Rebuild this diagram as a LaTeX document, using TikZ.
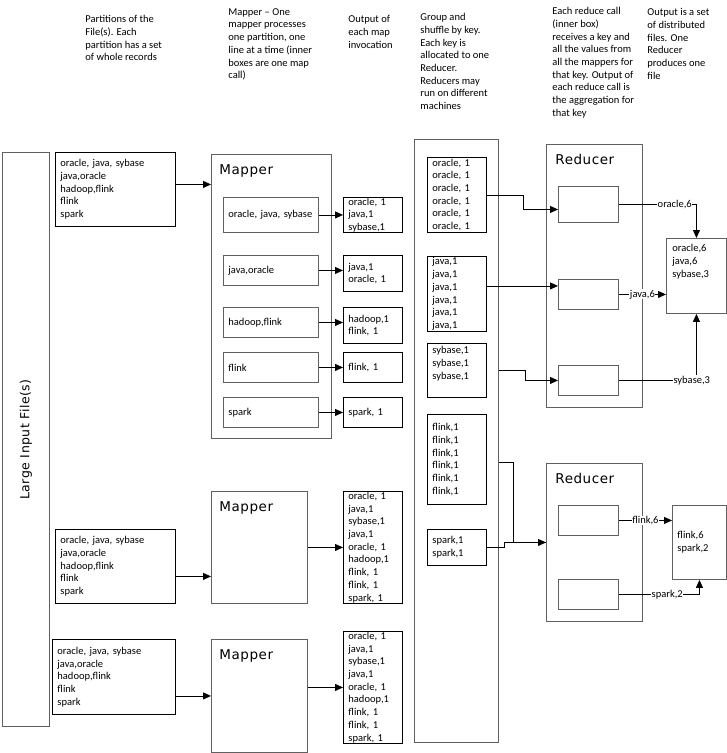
\documentclass[tikz,border=0pt]{standalone}
\usepackage{fontspec}
\setmainfont{Carlito}
\newfontfamily\titlefont[LetterSpace=4]{DejaVu Sans}
\usetikzlibrary{arrows.meta,calc}

\definecolor{boxgray}{RGB}{96,96,96}

\tikzset{
  txt/.style={font=\fontsize{10.5}{12.7}\selectfont},
  note/.style={txt, anchor=north west, inner sep=0pt, align=left},
  box/.style={draw, txt, anchor=north west, inner xsep=5pt, inner ysep=0pt, align=left},
  graybox/.style={box, draw=boxgray},
  title/.style={font=\titlefont\fontsize{13.5}{16}\selectfont, anchor=base west, inner sep=0pt},
  arr/.style={-{Triangle[length=8pt,width=7pt]}},
  lab/.style={txt, fill=white, inner sep=0.5pt},
}

\begin{document}
\begin{tikzpicture}[x=1pt, y=-1pt, line width=0.9pt]
  \useasboundingbox (0,0) rectangle (727,753);

  % notes along the top
  \node[note] (notepart) at (85,15) {Partitions of the\\File(s). Each\\partition has a set\\of whole records};
  \node[note] (notemap) at (228,8) {Mapper -- One\\mapper processes\\one partition, one\\line at a time (inner\\boxes are one map\\call)};
  \node[note] (noteout) at (348,15) {Output of\\each map\\invocation};
  \node[note] (noteshuf) at (420,13) {Group and\\shuffle by key.\\Each key is\\allocated to one\\Reducer.\\Reducers may\\run on different\\machines};
  \node[note] (notered) at (552,7) {Each reduce call\\(inner box)\\receives a key and\\all the values from\\all the mappers for\\that key. Output of\\each reduce call is\\the aggregation for\\that key};
  \node[note] (notefile) at (647,8) {Output is a set\\of distributed\\files. One\\Reducer\\produces one\\file};

  % input file
  \node[draw=boxgray, anchor=north west, minimum width=47pt, minimum height=574pt, inner sep=0pt] (input) at (2,152) {};
  \node[font=\titlefont\fontsize{12.5}{15}\selectfont, rotate=90] (inputt) at (input.center) {Large Input File(s)};

  % partitions
  \node[box, minimum width=120pt, minimum height=74pt, text width=110pt] (part1) at (55,152) {oracle, java, sybase\\java,oracle\\hadoop,flink\\flink\\spark};
  \node[box, minimum width=120pt, minimum height=74pt, text width=110pt] (part2) at (55,529) {oracle, java, sybase\\java,oracle\\hadoop,flink\\flink\\spark};
  \node[box, minimum width=123pt, minimum height=75pt, text width=113pt] (part3) at (52,639) {oracle, java, sybase\\java,oracle\\hadoop,flink\\flink\\spark};

  % mappers
  \node[graybox, minimum width=120pt, minimum height=284pt] (map1) at (211,154) {};
  \node[graybox, minimum width=96pt, minimum height=112pt] (map2) at (211,491) {};
  \node[graybox, minimum width=96pt, minimum height=113pt] (map3) at (211,639) {};
  \node[title] (map1t) at ($(map1.north west)+(8,20)$) {Mapper};
  \node[title] (map2t) at ($(map2.north west)+(8,20)$) {Mapper};
  \node[title] (map3t) at ($(map3.north west)+(8,20)$) {Mapper};

  % map calls
  \node[graybox, minimum width=95pt, minimum height=35pt, text width=85pt] (ma) at (223,197) {oracle, java, sybase};
  \node[graybox, minimum width=95pt, minimum height=30pt, text width=85pt] (mb) at (223,255) {java,oracle};
  \node[graybox, minimum width=95pt, minimum height=30pt, text width=85pt] (mc) at (223,307) {hadoop,flink};
  \node[graybox, minimum width=95pt, minimum height=30pt, text width=85pt] (md) at (223,352) {flink};
  \node[graybox, minimum width=95pt, minimum height=30pt, text width=85pt] (me) at (223,397) {spark};

  % map output
  \node[box, minimum width=59pt, minimum height=35pt, text width=49pt] (oa) at (343,197) {oracle, 1\\java,1\\sybase,1};
  \node[box, minimum width=59pt, minimum height=36pt, text width=49pt] (ob) at (343,255) {java,1\\oracle, 1};
  \node[box, minimum width=59pt, minimum height=36pt, text width=49pt] (oc) at (343,307) {hadoop,1\\flink, 1};
  \node[box, minimum width=59pt, minimum height=30pt, text width=49pt] (od) at (343,352) {flink, 1};
  \node[box, minimum width=59pt, minimum height=30pt, text width=49pt] (oe) at (343,397) {spark, 1};
  \node[box, minimum width=59pt, minimum height=112pt, text width=49pt] (om2) at (343,491) {oracle, 1\\java,1\\sybase,1\\java,1\\oracle, 1\\hadoop,1\\flink, 1\\flink, 1\\spark, 1};
  \node[box, minimum width=59pt, minimum height=112pt, text width=49pt] (om3) at (343,631) {oracle, 1\\java,1\\sybase,1\\java,1\\oracle, 1\\hadoop,1\\flink, 1\\flink, 1\\spark, 1};

  \draw[arr] ([yshift=5pt]part1.east) -- ([yshift=5pt]part1.east -| map1.west);
  \draw[arr] ([yshift=-10pt]part2.east) -- ([yshift=-10pt]part2.east -| map2.west);
  \draw[arr] (part3.east |- map3.west) -- (map3.west);
  \draw[arr] (ma.east) -- (ma.east -| oa.west);
  \draw[arr] (mb.east) -- (mb.east -| ob.west);
  \draw[arr] (mc.east) -- (mc.east -| oc.west);
  \draw[arr] (md.east) -- (md.east -| od.west);
  \draw[arr] (me.east) -- (me.east -| oe.west);
  \draw[arr] (map2.east) -- (om2.west);
  \draw[arr] (map3.east |- om3.west) -- (om3.west);

  % shuffle
  \node[graybox, minimum width=84pt, minimum height=603pt] (shuf) at (414,139) {};
  \node[box, minimum width=59pt, minimum height=75pt, text width=49pt] (so) at (427,157) {oracle, 1\\oracle, 1\\oracle, 1\\oracle, 1\\oracle, 1\\oracle, 1};
  \node[box, minimum width=59pt, minimum height=75pt, text width=49pt] (sj) at (427,256) {java,1\\java,1\\java,1\\java,1\\java,1\\java,1};
  \node[box, minimum width=59pt, minimum height=54pt] (ss) at (427,343) {};
  \node[note] (sst) at ($(ss.north west)+(5,3)$) {sybase,1\\sybase,1\\sybase,1};
  \node[box, minimum width=59pt, minimum height=90pt, text width=49pt] (sf) at (427,414) {flink,1\\flink,1\\flink,1\\flink,1\\flink,1\\flink,1};
  \node[box, minimum width=59pt, minimum height=36pt, text width=49pt] (sp) at (427,529) {spark,1\\spark,1};

  % reducers
  \node[graybox, minimum width=96pt, minimum height=263pt] (red1) at (546,144) {};
  \node[graybox, minimum width=96pt, minimum height=158pt] (red2) at (546,463) {};
  \node[title] (red1t) at ($(red1.north west)+(9,20)$) {Reducer};
  \node[title] (red2t) at ($(red2.north west)+(9,20)$) {Reducer};
  \node[graybox, minimum width=60pt, minimum height=36pt] (ra) at (558,186) {};
  \node[graybox, minimum width=60pt, minimum height=30pt] (rb) at (558,279) {};
  \node[graybox, minimum width=60pt, minimum height=30pt] (rc) at (558,365) {};
  \node[graybox, minimum width=60pt, minimum height=30pt] (rd) at (558,505) {};
  \node[graybox, minimum width=60pt, minimum height=30pt] (re) at (558,579) {};

  % output files
  \node[graybox, minimum width=60pt, minimum height=75pt] (out1) at (666,238) {};
  \node[note] (out1t) at ($(out1.north west)+(6,6)$) {oracle,6\\java,6\\sybase,3};
  \node[graybox, minimum width=54pt, minimum height=74pt, text width=44pt] (out2) at (672,505) {flink,6\\spark,2};

  \draw[arr] (so.east) -- ++(37,0) |- ([yshift=-5pt]ra.west);
  \draw[arr] ([yshift=8pt]sj.east) -- ([yshift=8pt]sj.east -| rb.west);
  \draw[arr] (ss.east -| shuf.east) -- ++(27,0) |- (rc.west);
  \draw[arr] ([yshift=-3pt]sf.east -| shuf.east) -- ++(15,0) |- (red2.west);
  \draw (sp.east) -- ++(18,0) |- (red2.west);

  \draw[arr] (ra.east) -| node[lab, pos=0.36] (ora) {oracle,6} (out1.north);
  \draw[arr] (rb.east) -- node[lab] (jav) {java,6} (rb.east -| out1.west);
  \draw[arr] (rc.east) -| node[lab, pos=0.47] (syb) {sybase,3} (out1.south);
  \draw[arr] (rd.east) -- node[lab] (fli) {flink,6} (rd.east -| out2.west);
  \draw[arr] (re.east) -| node[lab, pos=0.3] (spa) {spark,2} (out2.south);
\end{tikzpicture}
\end{document}
